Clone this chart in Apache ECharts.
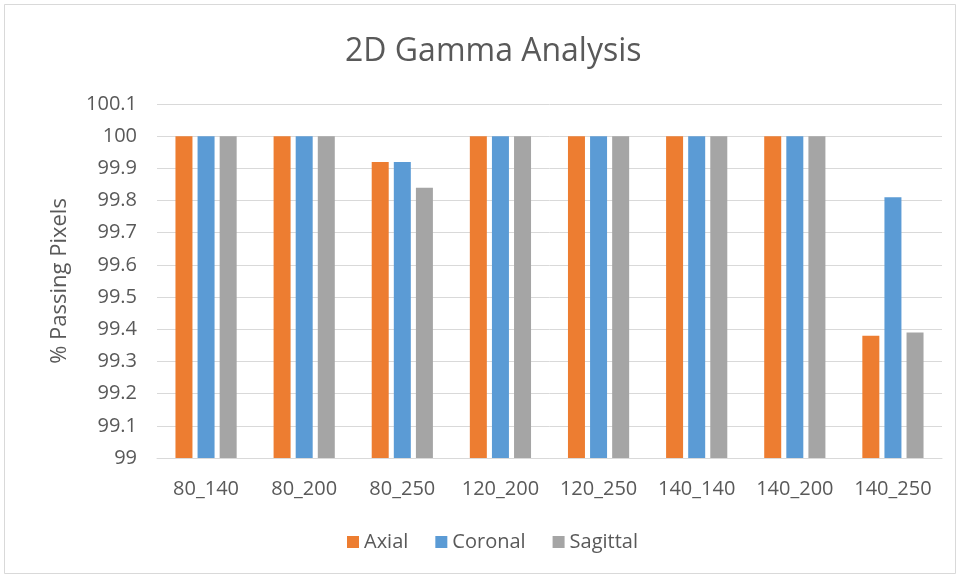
<!DOCTYPE html>
<html>
<head>
<meta charset="utf-8">
<script src="https://cdn.jsdelivr.net/npm/echarts@6/dist/echarts.min.js"></script>
<style>
  html, body { margin: 0; padding: 0; background: #fff; }
  #chart { width: 960px; height: 578px; }
</style>
</head>
<body>
<div id="chart"></div>
<script>
// Gamma pass rates per energy/field pair
const categories = ['80_140', '80_200', '80_250', '120_200', '120_250', '140_140', '140_200', '140_250'];
const axial    = [100, 100, 99.92, 100, 100, 100, 100, 99.38];
const coronal  = [100, 100, 99.92, 100, 100, 100, 100, 99.81];
const sagittal = [100, 100, 99.84, 100, 100, 100, 100, 99.39];
const seriesNames = ['Axial', 'Coronal', 'Sagittal'];
const yMin = 99, yMax = 100.1, yStep = 0.1;

const textColor = '#595959';
const fontFam = '"Open Sans", "Liberation Sans", sans-serif';

const chart = echarts.init(document.getElementById('chart'));

function barSeries(name, data, color) {
  return {
    name: name,
    type: 'bar',
    data: data,
    barWidth: 17,
    barGap: '30%',
    itemStyle: { color: color }
  };
}

chart.setOption({
  animation: false,
  backgroundColor: '#fff',
  title: {
    text: '2D Gamma Analysis',
    left: 340,
    top: 31,
    textStyle: { color: textColor, fontSize: 32, fontWeight: 'normal', fontFamily: fontFam }
  },
  legend: {
    data: seriesNames,
    top: 527,
    left: 342,
    itemWidth: 12,
    itemHeight: 12,
    itemGap: 27,
    icon: 'rect',
    textStyle: { color: textColor, fontSize: 20, fontFamily: fontFam }
  },
  graphic: [{
    type: 'rect',
    shape: { x: 4.5, y: 4.5, width: 951, height: 569 },
    style: { fill: 'none', stroke: '#D9D9D9', lineWidth: 1 },
    silent: true
  }],
  grid: { left: 157, right: 18, top: 104, bottom: 120 },
  xAxis: {
    type: 'category',
    data: categories,
    axisLine: { lineStyle: { color: '#D9D9D9', width: 1 } },
    axisTick: { show: false },
    axisLabel: { color: textColor, fontSize: 20, fontFamily: fontFam, margin: 21, interval: 0 }
  },
  yAxis: {
    type: 'value',
    min: yMin,
    max: yMax,
    interval: yStep,
    name: '% Passing Pixels',
    nameLocation: 'middle',
    nameGap: 86,
    nameTextStyle: { color: textColor, fontSize: 22, fontFamily: fontFam },
    axisLine: { show: false },
    axisTick: { show: false },
    splitLine: { lineStyle: { color: '#D9D9D9', width: 1 } },
    axisLabel: {
      color: textColor, fontSize: 20, fontFamily: fontFam, margin: 20,
      formatter: v => String(parseFloat(v.toFixed(1)))
    }
  },
  series: [
    barSeries('Axial', axial, '#ED7D31'),
    barSeries('Coronal', coronal, '#5B9BD5'),
    barSeries('Sagittal', sagittal, '#A5A5A5')
  ]
});
</script>
</body>
</html>
